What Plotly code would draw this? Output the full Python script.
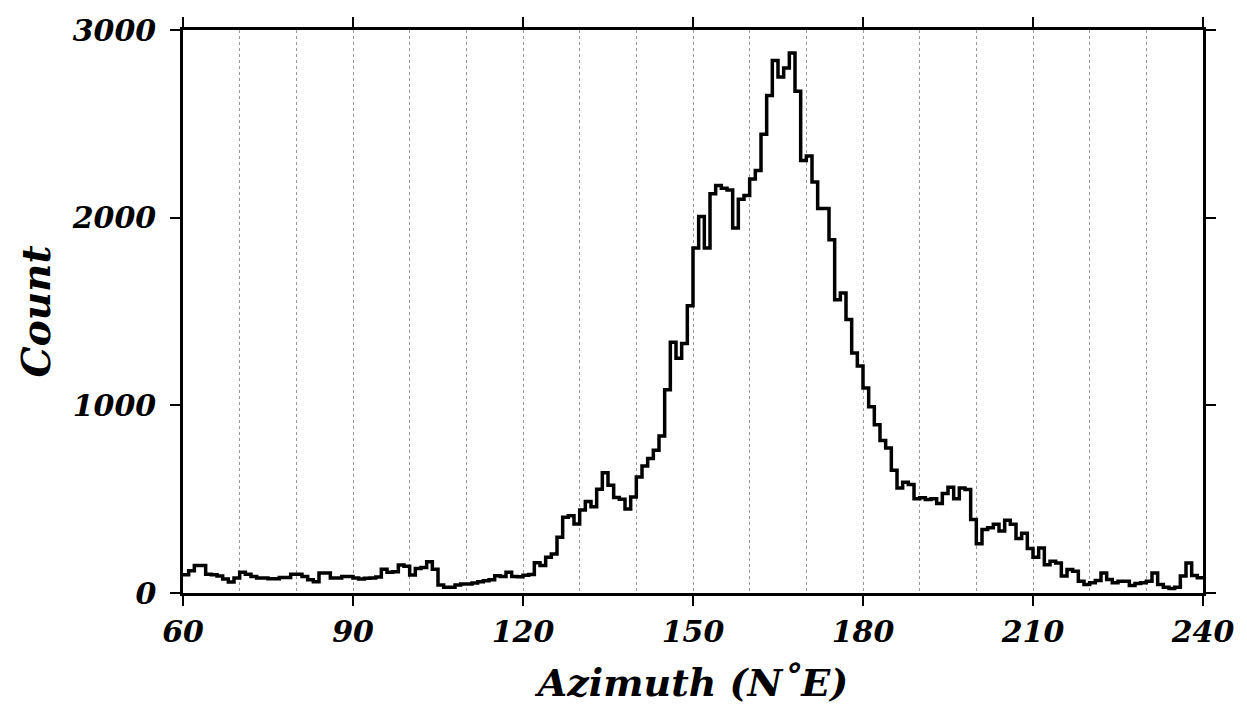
import plotly.graph_objects as go

# Histogram of azimuths, 1-degree bins from 60 to 240 (N°E)
bin_start = list(range(60, 240))
counts = [
    97, 119, 147, 147, 100, 97, 90, 75, 58, 80,          # 60-69
    110, 100, 88, 80, 80, 76, 76, 83, 83, 100,           # 70-79
    100, 88, 70, 60, 106, 106, 80, 80, 88, 88,           # 80-89
    80, 75, 78, 80, 85, 127, 110, 113, 149, 142,         # 90-99
    96, 131, 136, 166, 127, 42, 30, 30, 42, 48,          # 100-109
    48, 53, 60, 65, 70, 92, 88, 110, 88, 86,             # 110-119
    94, 99, 161, 147, 191, 208, 297, 403, 412, 368,      # 120-129
    442, 488, 459, 553, 641, 574, 509, 500, 447, 512,    # 130-139
    618, 677, 717, 760, 836, 1083, 1336, 1251, 1330, 1530,   # 140-149
    1839, 2006, 1839, 2128, 2171, 2157, 2147, 1945, 2098, 2118,  # 150-159
    2206, 2251, 2445, 2651, 2838, 2749, 2798, 2877, 2673, 2304,  # 160-169
    2328, 2190, 2049, 2049, 1882, 1563, 1598, 1457, 1279, 1210,  # 170-179
    1092, 993, 896, 813, 772, 654, 560, 590, 578, 502,   # 180-189
    507, 498, 502, 477, 530, 564, 502, 560, 551, 392,    # 190-199
    263, 339, 348, 366, 330, 387, 366, 290, 318, 237,    # 200-209
    190, 240, 151, 169, 160, 90, 125, 116, 63, 45,       # 210-219
    54, 67, 107, 72, 54, 63, 63, 40, 51, 54,             # 220-229
    63, 107, 45, 31, 24, 31, 90, 160, 93, 81,            # 230-239
]
x_ticks = [60, 90, 120, 150, 180, 210, 240]
y_ticks = [0, 1000, 2000, 3000]

# step line: bin edges with last value repeated at the final edge
edges = bin_start + [bin_start[-1] + 1]
step_y = counts + [counts[-1]]

FONT = "DejaVu Serif"

fig = go.Figure()
fig.add_trace(go.Scatter(
    x=edges, y=step_y, mode="lines", line=dict(color="black", width=3.5, shape="hv"),
    hoverinfo="skip", showlegend=False,
))

axis_common = dict(
    showline=True, linecolor="black", linewidth=2.5, mirror="ticks",
    ticks="outside", ticklen=10, tickwidth=2, tickcolor="black",
    zeroline=False,
    tickfont=dict(family=FONT, size=30, color="black", weight="bold", style="italic"),
)

fig.update_layout(
    width=1247, height=724,
    margin=dict(l=183, r=44, t=27, b=131),
    paper_bgcolor="white", plot_bgcolor="white",
    xaxis=dict(
        range=[60, 240], tickvals=x_ticks,
        showgrid=True, gridcolor="#999999", gridwidth=1, griddash="dot",
        minor=dict(dtick=10, tick0=60, showgrid=True, gridcolor="#999999", gridwidth=1, griddash="dot", ticks=""),
        title=dict(text="Azimuth (N˚E)", standoff=22,
                   font=dict(family=FONT, size=38, color="black", weight="bold", style="italic")),
        **axis_common,
    ),
    yaxis=dict(
        range=[0, 3000], tickvals=y_ticks, showgrid=False, ticklabelstandoff=8,
        title=dict(text="Count", standoff=10,
                   font=dict(family=FONT, size=39, color="black", weight="bold", style="italic")),
        **axis_common,
    ),
)

fig.write_html("out.html")
